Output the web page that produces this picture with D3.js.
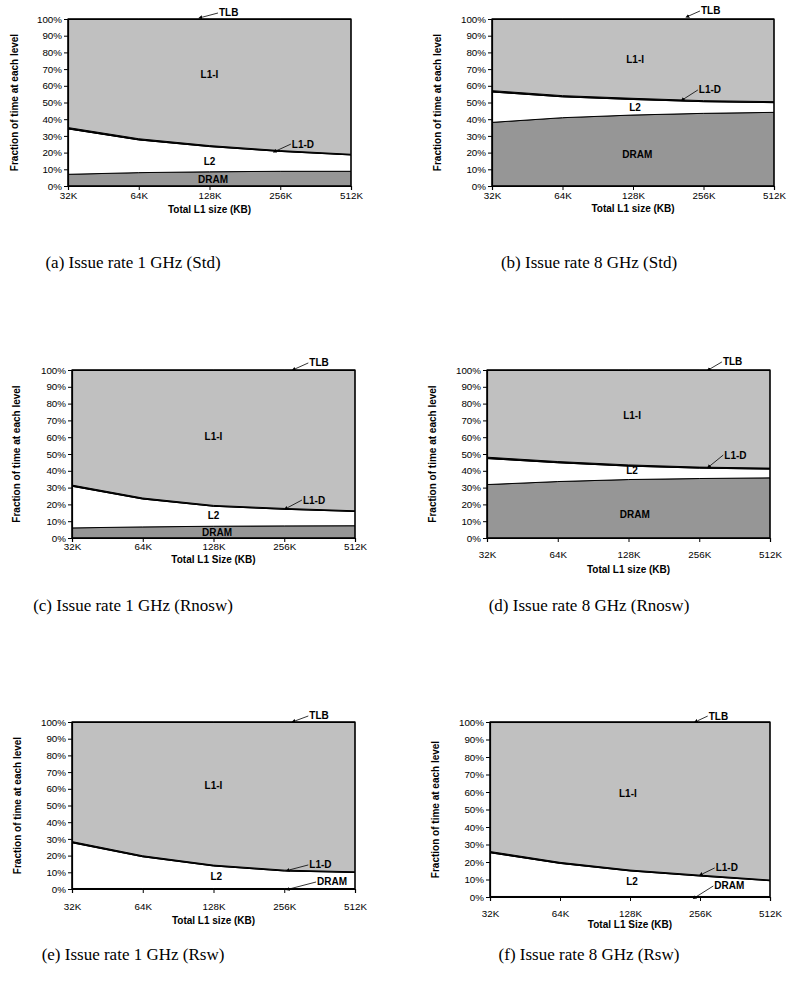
<!DOCTYPE html>
<html>
<head>
<meta charset="utf-8">
<script src="https://cdn.jsdelivr.net/npm/d3@7"></script>
<style>
  body { margin: 0; background: #fff; }
  svg { display: block; }
  .tick text { font-family: "Liberation Sans", Arial, sans-serif; font-size: 9.8px; fill: #000; }
  .axisTitle { font-family: "Liberation Sans", Arial, sans-serif; font-size: 10px; font-weight: bold; }
  .areaLabel { font-family: "Liberation Sans", Arial, sans-serif; font-size: 10px; font-weight: bold; }
  .caption { font-family: "Liberation Serif", "Times New Roman", serif; font-size: 17px; }
</style>
</head>
<body>
<div id="chart"></div>
<script>
// Data, one row per panel (a..f), one value per L1 size.
var sizes = ["32K", "64K", "128K", "256K", "512K"];
var layers = ["DRAM", "L2", "L1-D", "L1-I", "TLB"];
var yTicks = [0, 10, 20, 30, 40, 50, 60, 70, 80, 90, 100];

var dram = [
  [7.0, 8.0, 8.5, 8.8, 8.8],
  [38.1, 40.9, 42.5, 43.5, 44.1],
  [6.0, 6.6, 7.0, 7.2, 7.3],
  [31.8, 33.6, 34.8, 35.4, 35.8],
  [0.3, 0.3, 0.3, 0.3, 0.3],
  [0.3, 0.3, 0.3, 0.3, 0.3]
];
var l2 = [
  [27.2, 19.6, 15.1, 11.9, 9.8],
  [18.2, 12.5, 9.3, 7.0, 5.8],
  [24.8, 16.6, 11.9, 9.9, 8.5],
  [15.5, 11.2, 8.0, 6.2, 5.2],
  [27.4, 19.0, 13.5, 10.5, 9.6],
  [25.0, 18.9, 14.6, 11.7, 9.0]
];
var l1d = [
  [0.8, 0.7, 0.6, 0.5, 0.4],
  [0.8, 0.7, 0.7, 0.6, 0.6],
  [0.7, 0.6, 0.5, 0.5, 0.4],
  [0.8, 0.7, 0.7, 0.6, 0.6],
  [0.7, 0.6, 0.5, 0.5, 0.4],
  [0.7, 0.6, 0.5, 0.5, 0.4]
];
var l1i = [
  [64.7, 71.4, 75.5, 78.5, 80.7],
  [42.6, 45.6, 47.2, 48.6, 49.2],
  [68.2, 75.9, 80.3, 82.1, 83.5],
  [51.6, 54.2, 56.2, 57.5, 58.1],
  [71.3, 79.8, 85.4, 88.4, 89.4],
  [73.7, 79.9, 84.3, 87.2, 90.0]
];
var tlb = [
  [0.3, 0.3, 0.3, 0.3, 0.3],
  [0.3, 0.3, 0.3, 0.3, 0.3],
  [0.3, 0.3, 0.3, 0.3, 0.3],
  [0.3, 0.3, 0.3, 0.3, 0.3],
  [0.3, 0.3, 0.3, 0.3, 0.3],
  [0.3, 0.3, 0.3, 0.3, 0.3]
];

var captions = [
  "(a) Issue rate 1 GHz (Std)",
  "(b) Issue rate 8 GHz (Std)",
  "(c) Issue rate 1 GHz (Rnosw)",
  "(d) Issue rate 8 GHz (Rnosw)",
  "(e) Issue rate 1 GHz (Rsw)",
  "(f) Issue rate 8 GHz (Rsw)"
];
var xTitles = [
  "Total L1 size (KB)", "Total L1 size (KB)",
  "Total L1 Size (KB)", "Total L1 size (KB)",
  "Total L1 size (KB)", "Total L1 Size (KB)"
];

// Labels in data coordinates: [text, x index, y %] for inside labels,
// [text, tip index, tip %, end index, end %] for arrowed ones.
var innerLabels = [
  [["L1-I", 2.0, 67], ["L2", 2.0, 14.4], ["DRAM", 2.05, 3.6]],
  [["L1-I", 2.03, 76], ["L2", 2.03, 47.3], ["DRAM", 2.06, 18.6]],
  [["L1-I", 2.0, 60.7], ["L2", 2.0, 13.1], ["DRAM", 2.05, 3.4]],
  [["L1-I", 2.05, 73.2], ["L2", 2.05, 39.9], ["DRAM", 2.09, 13.7]],
  [["L1-I", 2.0, 61.7], ["L2", 2.04, 7.2]],
  [["L1-I", 1.97, 58.9], ["L2", 2.03, 8.6]]
];
var arrowLabels = [
  [["L1-D", 2.94, 21, 3.15, 25.1], ["TLB", 1.89, 101, 2.12, 103.6]],
  [["L1-D", 2.72, 52.1, 2.92, 57.5], ["TLB", 2.79, 101.8, 2.95, 104.8]],
  [["L1-D", 3.04, 17.9, 3.25, 22.6], ["TLB", 3.15, 100.6, 3.34, 104.2]],
  [["L1-D", 3.15, 42.9, 3.34, 49.4], ["TLB", 3.15, 100.6, 3.32, 104.8]],
  [["L1-D", 3.07, 11.4, 3.34, 14.4], ["TLB", 3.15, 100.6, 3.34, 103.6], ["DRAM", 3.07, 0, 3.45, 4.2]],
  [["L1-D", 3.03, 13.1, 3.21, 16.6], ["TLB", 2.96, 100.6, 3.11, 103.4], ["DRAM", 2.94, 0, 3.19, 6.3]]
];

// Panel placement on the page.
var layout = [
  {left: 68, right: 351, top: 19, bottom: 186, tickY: 198, titleY: 213, yTitleX: 14, capX: 133, capY: 268},
  {left: 492, right: 774, top: 19, bottom: 186, tickY: 198, titleY: 212, yTitleX: 437, capX: 589, capY: 268},
  {left: 72, right: 355, top: 370, bottom: 538, tickY: 549, titleY: 563, yTitleX: 16, capX: 133, capY: 611},
  {left: 487, right: 770, top: 370, bottom: 538, tickY: 557, titleY: 573, yTitleX: 432, capX: 589, capY: 611},
  {left: 72, right: 355, top: 722, bottom: 889, tickY: 909, titleY: 924, yTitleX: 17, capX: 133, capY: 960},
  {left: 490, right: 770, top: 722, bottom: 897, tickY: 916, titleY: 928, yTitleX: 435, capX: 589, capY: 960}
];

var fills = {"DRAM": "#969696", "L2": "#ffffff", "L1-D": "#000000", "L1-I": "#c0c0c0", "TLB": "#000000"};

var svg = d3.select("#chart")
  .append("svg")
  .attr("width", 787)
  .attr("height", 999);

svg.append("defs").append("marker")
  .attr("id", "head")
  .attr("viewBox", "0 0 10 10")
  .attr("refX", 1)
  .attr("refY", 5)
  .attr("markerWidth", 5)
  .attr("markerHeight", 5)
  .attr("orient", "auto-start-reverse")
  .append("path")
  .attr("d", "M0,0 L10,5 L0,10 z")
  .attr("fill", "#000");

layout.forEach(function(p, i) {
  var rows = sizes.map(function(s, j) {
    return {"DRAM": dram[i][j], "L2": l2[i][j], "L1-D": l1d[i][j], "L1-I": l1i[i][j], "TLB": tlb[i][j]};
  });

  var x = d3.scaleLinear().domain([0, sizes.length - 1]).range([p.left, p.right]);
  var y = d3.scaleLinear().domain([0, 100]).range([p.bottom, p.top]);

  var series = d3.stack().keys(layers)(rows);

  var area = d3.area()
    .x(function(d, j) { return x(j); })
    .y0(function(d) { return y(d[0]); })
    .y1(function(d) { return y(Math.min(d[1], 100)); });

  var g = svg.append("g");

  g.selectAll("path.layer")
    .data(series)
    .enter()
    .append("path")
    .attr("class", "layer")
    .attr("d", area)
    .attr("fill", function(d) { return fills[d.key]; })
    .attr("stroke", "#000")
    .attr("stroke-width", 1);

  // plot frame
  g.append("rect")
    .attr("x", p.left)
    .attr("y", p.top)
    .attr("width", p.right - p.left)
    .attr("height", p.bottom - p.top)
    .attr("fill", "none")
    .attr("stroke", "#000")
    .attr("stroke-width", 1.2);

  // axes
  var leftAxis = d3.axisLeft(y)
    .tickValues(yTicks)
    .tickFormat(function(d) { return d + "%"; })
    .tickSize(4)
    .tickPadding(2);

  var bottomAxis = d3.axisBottom(x)
    .tickValues(d3.range(sizes.length))
    .tickFormat(function(d) { return sizes[d]; })
    .tickSize(4)
    .tickPadding(p.tickY - p.bottom - 10);

  g.append("g")
    .attr("transform", "translate(" + p.left + ",0)")
    .call(leftAxis)
    .call(function(a) { a.select(".domain").attr("stroke-width", 1.2); });

  g.append("g")
    .attr("transform", "translate(0," + p.bottom + ")")
    .call(bottomAxis)
    .call(function(a) { a.select(".domain").attr("stroke-width", 1.2); });

  // axis titles
  g.append("text")
    .attr("class", "axisTitle")
    .attr("x", (p.left + p.right) / 2)
    .attr("y", p.titleY)
    .attr("text-anchor", "middle")
    .text(xTitles[i]);

  g.append("text")
    .attr("class", "axisTitle")
    .attr("transform", "translate(" + p.yTitleX + "," + ((p.top + p.bottom) / 2) + ") rotate(-90)")
    .attr("text-anchor", "middle")
    .attr("dy", "0.35em")
    .text("Fraction of time at each level");

  // area labels
  g.selectAll("text.inner")
    .data(innerLabels[i])
    .enter()
    .append("text")
    .attr("class", "areaLabel inner")
    .attr("x", function(d) { return x(d[1]); })
    .attr("y", function(d) { return y(d[2]); })
    .attr("dy", "0.35em")
    .attr("text-anchor", "middle")
    .text(function(d) { return d[0]; });

  g.selectAll("line.arrow")
    .data(arrowLabels[i])
    .enter()
    .append("line")
    .attr("class", "arrow")
    .attr("x1", function(d) { return x(d[3]); })
    .attr("y1", function(d) { return y(d[4]); })
    .attr("x2", function(d) { return x(d[1]); })
    .attr("y2", function(d) { return y(d[2]); })
    .attr("stroke", "#000")
    .attr("stroke-width", 0.8)
    .attr("marker-end", "url(#head)");

  g.selectAll("text.outer")
    .data(arrowLabels[i])
    .enter()
    .append("text")
    .attr("class", "areaLabel outer")
    .attr("x", function(d) { return x(d[3]) + 1; })
    .attr("y", function(d) { return y(d[4]); })
    .attr("dy", "0.35em")
    .text(function(d) { return d[0]; });

  // caption
  svg.append("text")
    .attr("class", "caption")
    .attr("x", p.capX)
    .attr("y", p.capY)
    .attr("text-anchor", "middle")
    .text(captions[i]);
});
</script>
</body>
</html>
